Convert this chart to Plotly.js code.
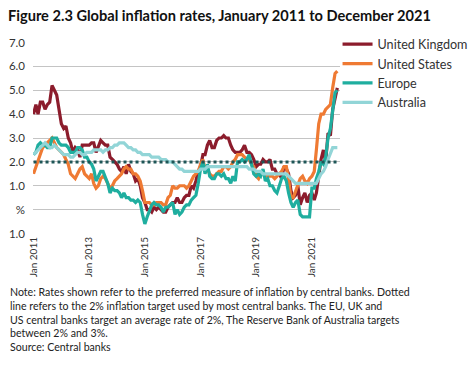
<!DOCTYPE html>
<html>
<head>
<meta charset="utf-8">
<script src="https://cdn.plot.ly/plotly-3.0.1.min.js"></script>
<style>
html,body{margin:0;padding:0;background:#fff;}
#chart{width:474px;height:368px;}
</style>
</head>
<body>
<div id="chart"></div>
<script>
// Monthly values Jan 2011 .. Dec 2021 (annual % change)
var years = [2011,2012,2013,2014,2015,2016,2017,2018,2019,2020,2021];
var seriesNames = ["United Kingdom","United States","Europe","Australia"];

var ukValues = [
 4.0,4.4,4.0,4.5,4.5,4.2,4.4,4.5,5.2,5.0,4.8,4.2,
 3.6,3.4,3.5,3.0,2.8,2.4,2.6,2.5,2.2,2.7,2.7,2.7,
 2.7,2.8,2.8,2.4,2.7,2.9,2.8,2.7,2.7,2.2,2.1,2.0,
 1.9,1.7,1.6,1.8,1.5,1.9,1.6,1.5,1.2,1.3,1.0,0.5,
 0.3,0.0,0.0,-0.1,0.1,0.0,0.1,0.0,-0.1,-0.1,0.1,0.2,
 0.3,0.3,0.5,0.3,0.3,0.5,0.6,0.6,1.0,0.9,1.2,1.6,
 1.8,2.3,2.3,2.7,2.9,2.6,2.6,2.9,3.0,3.0,3.1,3.0,
 3.0,2.7,2.5,2.4,2.4,2.4,2.5,2.7,2.4,2.4,2.3,2.1,
 1.8,1.9,1.9,2.1,2.0,2.0,2.1,1.7,1.7,1.5,1.5,1.3,
 1.8,1.7,1.5,0.8,0.5,0.6,1.0,0.2,0.5,0.7,0.3,0.6,
 0.7,0.4,0.7,1.5,2.1,2.5,2.0,3.2,3.1,4.2,4.6,5.1
];
var usValues = [
 1.5,1.8,2.1,2.4,2.6,2.7,2.8,2.9,3.0,2.8,2.6,2.5,
 2.4,2.3,2.1,1.9,1.5,1.4,1.3,1.5,1.7,1.8,1.5,1.4,
 1.3,1.5,1.1,0.9,1.0,1.3,1.4,1.3,1.1,0.9,1.0,1.2,
 1.3,1.4,1.5,1.7,1.8,1.7,1.7,1.5,1.5,1.4,1.2,0.8,
 0.3,0.3,0.3,0.2,0.2,0.3,0.3,0.3,0.2,0.2,0.5,0.6,
 1.0,0.9,0.9,1.0,1.0,1.0,0.9,1.0,1.2,1.4,1.5,1.6,
 1.9,2.1,1.7,1.7,1.5,1.4,1.4,1.5,1.6,1.6,1.8,1.8,
 1.7,1.8,2.0,2.1,2.3,2.3,2.3,2.2,2.1,2.1,1.9,1.8,
 1.4,1.3,1.5,1.5,1.4,1.4,1.4,1.4,1.3,1.4,1.5,1.6,
 1.8,1.8,1.3,0.5,0.5,0.8,1.0,1.3,1.4,1.2,1.1,1.3,
 1.4,1.6,2.5,3.6,4.0,4.0,4.2,4.3,4.4,5.1,5.7,5.8
];
var euValues = [
 2.3,2.4,2.7,2.8,2.7,2.7,2.6,2.6,3.0,3.0,3.0,2.8,
 2.7,2.7,2.7,2.6,2.4,2.4,2.4,2.6,2.6,2.5,2.2,2.2,
 2.0,1.9,1.7,1.2,1.4,1.6,1.6,1.3,1.1,0.7,0.9,0.8,
 0.8,0.7,0.5,0.7,0.5,0.5,0.4,0.4,0.3,0.4,0.3,-0.2,
 -0.6,-0.3,-0.1,0.2,0.3,0.2,0.2,0.1,-0.1,0.1,0.1,0.2,
 0.3,-0.2,0.0,-0.2,-0.1,0.1,0.2,0.2,0.4,0.5,0.6,1.1,
 1.7,2.0,1.5,1.9,1.4,1.3,1.3,1.5,1.5,1.4,1.5,1.3,
 1.3,1.1,1.4,1.2,2.0,2.0,2.1,2.0,2.1,2.3,1.9,1.5,
 1.4,1.5,1.4,1.7,1.2,1.3,1.0,1.0,0.8,0.7,1.0,1.3,
 1.4,1.2,0.7,0.3,0.1,0.3,0.4,-0.2,-0.3,-0.3,-0.3,-0.3,
 0.9,0.9,1.3,1.6,2.0,1.9,2.2,3.0,3.4,4.1,4.9,5.0
];
var auValues = [
 2.3,2.4,2.5,2.6,2.7,2.8,2.7,2.6,2.6,2.7,2.6,2.5,
 2.4,2.3,2.3,2.3,2.2,2.2,2.3,2.4,2.4,2.3,2.3,2.4,
 2.4,2.4,2.5,2.5,2.5,2.5,2.4,2.5,2.5,2.6,2.6,2.7,
 2.7,2.8,2.8,2.8,2.7,2.6,2.6,2.5,2.5,2.4,2.4,2.3,
 2.3,2.3,2.3,2.2,2.2,2.2,2.2,2.1,2.1,2.1,2.0,2.0,
 2.0,1.9,1.8,1.7,1.7,1.6,1.6,1.6,1.6,1.6,1.6,1.6,
 1.7,1.7,1.7,1.8,1.8,1.8,1.8,1.8,1.8,1.8,1.8,1.8,
 1.8,1.8,1.8,1.8,1.8,1.8,1.8,1.8,1.8,1.7,1.7,1.7,
 1.6,1.6,1.6,1.5,1.5,1.5,1.5,1.5,1.5,1.5,1.5,1.5,
 1.5,1.5,1.4,1.3,1.2,1.1,1.1,1.1,1.1,1.1,1.1,1.1,
 1.1,1.1,1.1,1.3,1.5,1.6,1.8,2.1,2.4,2.6,2.6,2.6
];
var targetValue = [2.0, 2.0];
var targetDates = ["2011-01-01","2021-12-01"];

var yTickVals = [-1,0,1,2,3,4,5,6,7];
var yTickText = ["1.0","%","1.0","2.0","3.0","4.0","5.0","6.0","7.0"];
var xTickVals = ["2011-01-01","2013-01-01","2015-01-01","2017-01-01","2019-01-01","2021-01-01"];
var xTickText = ["Jan 2011","Jan 2013","Jan 2015","Jan 2017","Jan 2019","Jan 2021"];

var titleText = "Figure 2.3 Global inflation rates, January 2011 to December 2021";
var noteText = "Note: Rates shown refer to the preferred measure of inflation by central banks. Dotted<br>" +
  "line refers to the 2% inflation target used by most central banks. The EU, UK and<br>" +
  "US central banks target an average rate of 2%, The Reserve Bank of Australia targets<br>" +
  "between 2% and 3%.<br>Source: Central banks";

var dates = [];
years.forEach(function(y){
  for (var m = 1; m <= 12; m++) dates.push(y + "-" + (m < 10 ? "0" + m : m) + "-01");
});

var colors = ["#8c1c2c","#ef7a33","#1fae9f","#92d5d7"];
var vals = [ukValues, usValues, euValues, auValues];

var traces = vals.map(function(v, i){
  return {x: dates, y: v, type: "scatter", mode: "lines", name: seriesNames[i],
          line: {color: colors[i], width: 3.2}, hoverinfo: "skip"};
});
traces.push({x: targetDates, y: targetValue, type: "scatter", mode: "lines",
  showlegend: false, line: {color: "#1e5657", width: 3, dash: "3px,3px"}, hoverinfo: "skip"});

var FONT = "Lato, 'Open Sans', sans-serif";

var layout = {
  width: 474, height: 368,
  margin: {l: 33, r: 134, t: 42, b: 134, pad: 0, autoexpand: false},
  paper_bgcolor: "#fff", plot_bgcolor: "#fff",
  font: {family: FONT, color: "#333"},
  title: {text: "<b>" + titleText + "</b>", x: 8/474, xanchor: "left", xref: "container",
          y: 1 - 16/368, yref: "container", yanchor: "middle",
          font: {family: FONT, size: 14.6, color: "#111"}},
  xaxis: {type: "date", range: ["2010-12-25","2022-01-05"], showgrid: false, zeroline: false,
          showline: false, tickmode: "array", tickvals: xTickVals, ticktext: xTickText,
          tickangle: -90, ticks: "", automargin: false, tickfont: {size: 10, color: "#333", family: FONT}},
  yaxis: {range: [-1.02, 7.02], tickmode: "array", tickvals: yTickVals, ticktext: yTickText,
          showgrid: true, gridcolor: "#c4c4c4", gridwidth: 1, zeroline: false, showline: false,
          automargin: false, ticks: "", ticklabelstandoff: 7, tickfont: {size: 11.5, color: "#333", family: FONT}},
  legend: {x: 0.992, xanchor: "left", y: 1.065, yanchor: "top", bgcolor: "rgba(0,0,0,0)",
           font: {size: 12.6, color: "#333", family: FONT}, itemwidth: 30, tracegroupgap: 0},
  showlegend: true,
  annotations: [{
    text: noteText, xref: "paper", yref: "paper", x: -25/307, y: -0.26,
    xanchor: "left", yanchor: "top", align: "left", showarrow: false,
    font: {size: 10.6, color: "#222", family: FONT}
  }]
};

Plotly.newPlot("chart", traces, layout, {staticPlot: true, displayModeBar: false});
</script>
</body>
</html>
